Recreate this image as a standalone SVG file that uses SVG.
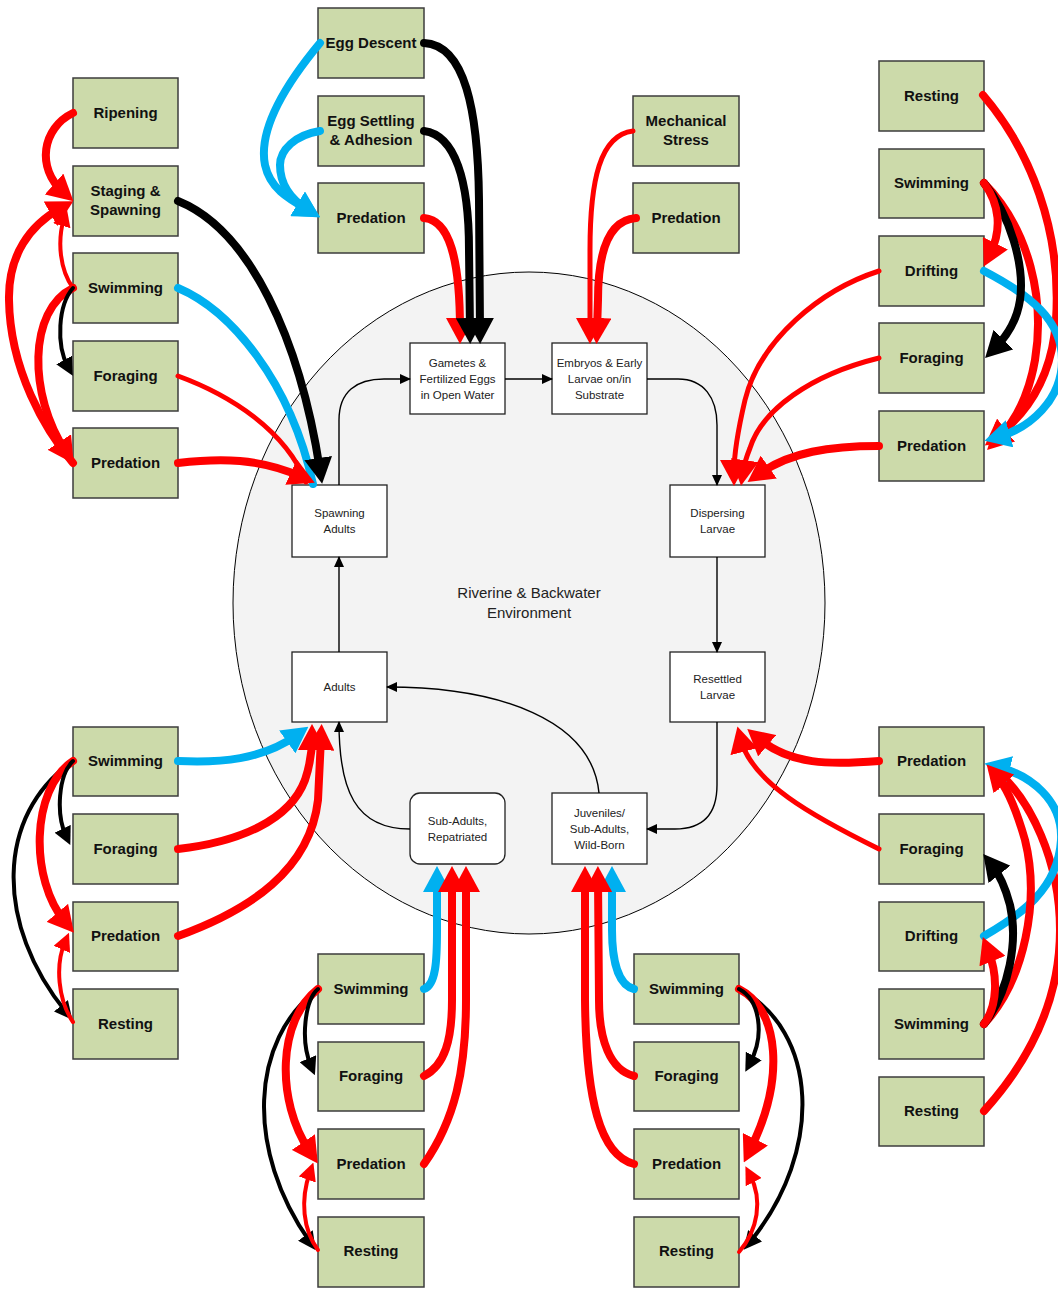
<svg xmlns="http://www.w3.org/2000/svg" width="1058" height="1289" viewBox="0 0 1058 1289">
  <style>
    .act rect { fill: #ccdaaa; stroke: #3c3c3c; stroke-width: 1.5; }
    .act text { font-family: "Liberation Sans", Arial, sans-serif; font-weight: bold; font-size: 15px; fill: #111; text-anchor: middle; }
    .stage rect { fill: #ffffff; stroke: #222; stroke-width: 1.3; }
    .stage text { font-family: "Liberation Sans", Arial, sans-serif; font-size: 11.5px; fill: #222; text-anchor: middle; }
    .env { font-family: "Liberation Sans", Arial, sans-serif; font-size: 15px; fill: #222; text-anchor: middle; }
    .flow path { fill: none; stroke: #000; stroke-width: 1.4; }
    .link path { fill: none; stroke-linecap: round; stroke-linejoin: round; }
    .link .t { stroke-width: 8; }
    .link .m { stroke-width: 5; }
    .link .n { stroke-width: 4; }
    .link .r { stroke: #ff0000; }
    .link .b { stroke: #00b0f0; }
    .link .k { stroke: #000000; }
  </style>
  <defs>
    <marker id="aRL" viewBox="0 0 26 28" markerWidth="26" markerHeight="28" refX="12" refY="14" orient="auto" markerUnits="userSpaceOnUse"><path d="M0,0L26,14L0,28Z" fill="#ff0000"/></marker>
    <marker id="aBL" viewBox="0 0 26 28" markerWidth="26" markerHeight="28" refX="12" refY="14" orient="auto" markerUnits="userSpaceOnUse"><path d="M0,0L26,14L0,28Z" fill="#00b0f0"/></marker>
    <marker id="aKL" viewBox="0 0 26 28" markerWidth="26" markerHeight="28" refX="12" refY="14" orient="auto" markerUnits="userSpaceOnUse"><path d="M0,0L26,14L0,28Z" fill="#000000"/></marker>
    <marker id="aRS" viewBox="0 0 18 18" markerWidth="18" markerHeight="18" refX="8" refY="9" orient="auto" markerUnits="userSpaceOnUse"><path d="M0,0L18,9L0,18Z" fill="#ff0000"/></marker>
    <marker id="aKS" viewBox="0 0 18 18" markerWidth="18" markerHeight="18" refX="8" refY="9" orient="auto" markerUnits="userSpaceOnUse"><path d="M0,0L18,9L0,18Z" fill="#000000"/></marker>
    <marker id="aK" viewBox="0 0 11 10" markerWidth="11" markerHeight="10" refX="10" refY="5" orient="auto" markerUnits="userSpaceOnUse"><path d="M0,0L11,5L0,10Z" fill="#000000"/></marker>
  </defs>

  <!-- habitat boundary -->
  <ellipse cx="529" cy="603" rx="296" ry="331" fill="#f3f3f3" stroke="#000" stroke-width="1"/>
  <text class="env" x="529" y="598">Riverine &amp; Backwater</text>
  <text class="env" x="529" y="618">Environment</text>

  <!-- life stages -->
  <g id="stage-gametes" class="stage"><rect x="410" y="343" width="95" height="71"/><text x="457.5" y="367">Gametes &amp;</text><text x="457.5" y="383">Fertilized Eggs</text><text x="457.5" y="399">in Open Water</text></g>
  <g id="stage-embryos" class="stage"><rect x="552" y="343" width="95" height="71"/><text x="599.5" y="367">Embryos &amp; Early</text><text x="599.5" y="383">Larvae on/in</text><text x="599.5" y="399">Substrate</text></g>
  <g id="stage-spawning-adults" class="stage"><rect x="292" y="485" width="95" height="72"/><text x="339.5" y="517">Spawning</text><text x="339.5" y="533">Adults</text></g>
  <g id="stage-dispersing-larvae" class="stage"><rect x="670" y="485" width="95" height="72"/><text x="717.5" y="517">Dispersing</text><text x="717.5" y="533">Larvae</text></g>
  <g id="stage-adults" class="stage"><rect x="292" y="652" width="95" height="70"/><text x="339.5" y="691">Adults</text></g>
  <g id="stage-resettled-larvae" class="stage"><rect x="670" y="652" width="95" height="70"/><text x="717.5" y="683">Resettled</text><text x="717.5" y="699">Larvae</text></g>
  <g id="stage-sub-adults" class="stage"><rect x="410" y="793" width="95" height="71" rx="10" ry="10"/><text x="457.5" y="825">Sub-Adults,</text><text x="457.5" y="841">Repatriated</text></g>
  <g id="stage-juveniles" class="stage"><rect x="552" y="793" width="95" height="71"/><text x="599.5" y="817">Juveniles/</text><text x="599.5" y="833">Sub-Adults,</text><text x="599.5" y="849">Wild-Born</text></g>

  <!-- activities around spawning adults -->
  <g id="sa-ripening" class="act"><rect x="73" y="78" width="105" height="70"/><text x="125.5" y="118">Ripening</text></g>
  <g id="sa-staging" class="act"><rect x="73" y="166" width="105" height="70"/><text x="125.5" y="196">Staging &amp;</text><text x="125.5" y="215">Spawning</text></g>
  <g id="sa-swimming" class="act"><rect x="73" y="253" width="105" height="70"/><text x="125.5" y="293">Swimming</text></g>
  <g id="sa-foraging" class="act"><rect x="73" y="341" width="105" height="70"/><text x="125.5" y="381">Foraging</text></g>
  <g id="sa-predation" class="act"><rect x="73" y="428" width="105" height="70"/><text x="125.5" y="468">Predation</text></g>

  <!-- activities around gametes -->
  <g id="ge-descent" class="act"><rect x="318" y="8" width="106" height="70"/><text x="371" y="48">Egg Descent</text></g>
  <g id="ge-settling" class="act"><rect x="318" y="96" width="106" height="70"/><text x="371" y="126">Egg Settling</text><text x="371" y="145">&amp; Adhesion</text></g>
  <g id="ge-predation" class="act"><rect x="318" y="183" width="106" height="70"/><text x="371" y="223">Predation</text></g>

  <!-- activities around embryos -->
  <g id="em-stress" class="act"><rect x="633" y="96" width="106" height="70"/><text x="686" y="126">Mechanical</text><text x="686" y="145">Stress</text></g>
  <g id="em-predation" class="act"><rect x="633" y="183" width="106" height="70"/><text x="686" y="223">Predation</text></g>

  <!-- activities around dispersing larvae -->
  <g id="dl-resting" class="act"><rect x="879" y="61" width="105" height="70"/><text x="931.5" y="101">Resting</text></g>
  <g id="dl-swimming" class="act"><rect x="879" y="149" width="105" height="69"/><text x="931.5" y="188">Swimming</text></g>
  <g id="dl-drifting" class="act"><rect x="879" y="236" width="105" height="70"/><text x="931.5" y="276">Drifting</text></g>
  <g id="dl-foraging" class="act"><rect x="879" y="323" width="105" height="70"/><text x="931.5" y="363">Foraging</text></g>
  <g id="dl-predation" class="act"><rect x="879" y="411" width="105" height="70"/><text x="931.5" y="451">Predation</text></g>

  <!-- activities around adults -->
  <g id="ad-swimming" class="act"><rect x="73" y="727" width="105" height="69"/><text x="125.5" y="766">Swimming</text></g>
  <g id="ad-foraging" class="act"><rect x="73" y="814" width="105" height="70"/><text x="125.5" y="854">Foraging</text></g>
  <g id="ad-predation" class="act"><rect x="73" y="902" width="105" height="69"/><text x="125.5" y="941">Predation</text></g>
  <g id="ad-resting" class="act"><rect x="73" y="989" width="105" height="70"/><text x="125.5" y="1029">Resting</text></g>

  <!-- activities around repatriated sub-adults -->
  <g id="rp-swimming" class="act"><rect x="318" y="954" width="106" height="70"/><text x="371" y="994">Swimming</text></g>
  <g id="rp-foraging" class="act"><rect x="318" y="1042" width="106" height="69"/><text x="371" y="1081">Foraging</text></g>
  <g id="rp-predation" class="act"><rect x="318" y="1129" width="106" height="70"/><text x="371" y="1169">Predation</text></g>
  <g id="rp-resting" class="act"><rect x="318" y="1217" width="106" height="70"/><text x="371" y="1256">Resting</text></g>

  <!-- activities around wild-born juveniles -->
  <g id="jv-swimming" class="act"><rect x="634" y="954" width="105" height="70"/><text x="686.5" y="994">Swimming</text></g>
  <g id="jv-foraging" class="act"><rect x="634" y="1042" width="105" height="69"/><text x="686.5" y="1081">Foraging</text></g>
  <g id="jv-predation" class="act"><rect x="634" y="1129" width="105" height="70"/><text x="686.5" y="1169">Predation</text></g>
  <g id="jv-resting" class="act"><rect x="634" y="1217" width="105" height="70"/><text x="686.5" y="1256">Resting</text></g>

  <!-- activities around resettled larvae -->
  <g id="rl-predation" class="act"><rect x="879" y="727" width="105" height="69"/><text x="931.5" y="766">Predation</text></g>
  <g id="rl-foraging" class="act"><rect x="879" y="814" width="105" height="70"/><text x="931.5" y="854">Foraging</text></g>
  <g id="rl-drifting" class="act"><rect x="879" y="902" width="105" height="69"/><text x="931.5" y="941">Drifting</text></g>
  <g id="rl-swimming" class="act"><rect x="879" y="989" width="105" height="70"/><text x="931.5" y="1029">Swimming</text></g>
  <g id="rl-resting" class="act"><rect x="879" y="1077" width="105" height="69"/><text x="931.5" y="1116">Resting</text></g>

  <!-- life-cycle flow -->
  <g id="life-cycle" class="flow">
    <path d="M339,485 V420 C339,392 356,379 384,379 H410" marker-end="url(#aK)"/>
    <path d="M505,379 H552" marker-end="url(#aK)"/>
    <path d="M647,379 H678 C704,379 717,398 717,425 V485" marker-end="url(#aK)"/>
    <path d="M717,557 V652" marker-end="url(#aK)"/>
    <path d="M717,722 V785 C717,815 702,829 675,829 H647" marker-end="url(#aK)"/>
    <path d="M599,793 C592,720 500,687 387,687" marker-end="url(#aK)"/>
    <path d="M410,829 C355,829 339,790 339,722" marker-end="url(#aK)"/>
    <path d="M339,652 V557" marker-end="url(#aK)"/>
  </g>

  <!-- activity transitions and influences -->
  <g id="connectors" class="link">
    <!-- spawning adults -->
    <path class="t r" d="M73,113 C42,128 36,168 63,192" marker-end="url(#aRL)"/>
    <path class="t r" d="M73,463 C45,430 10,370 9,300 C8,255 30,225 61,208" marker-end="url(#aRL)"/>
    <path class="n r" d="M73,288 C60,270 57,242 64,218" marker-end="url(#aRS)"/>
    <path class="t r" d="M73,288 C28,310 28,395 66,452" marker-end="url(#aRL)"/>
    <path class="n k" d="M73,288 C58,305 56,345 68,367" marker-end="url(#aKS)"/>
    <path class="m r" d="M178,376 C230,395 285,430 306,482"/>
    <path class="t b" d="M178,288 C230,310 290,380 313,484"/>
    <path class="t r" d="M178,463 C220,458 260,458 302,477" marker-end="url(#aRL)"/>
    <path class="t k" d="M178,201 C250,230 300,340 320,470" marker-end="url(#aKL)"/>

    <!-- gametes -->
    <path class="t b" d="M320,43 C285,85 258,130 265,165 C270,188 287,198 308,210" marker-end="url(#aBL)"/>
    <path class="t b" d="M320,131 C295,135 280,150 280,165 C280,185 292,200 308,210" marker-end="url(#aBL)"/>
    <path class="t r" d="M424,218 C450,220 460,260 460,330" marker-end="url(#aRL)"/>
    <path class="t k" d="M424,131 C455,135 469,180 469,250 L470,330" marker-end="url(#aKL)"/>
    <path class="t k" d="M424,43 C465,45 478,110 479,200 L480,330" marker-end="url(#aKL)"/>

    <!-- embryos -->
    <path class="m r" d="M633,131 C600,135 590,180 590,250 L590,330" marker-end="url(#aRL)"/>
    <path class="t r" d="M636,218 C610,220 598,250 598,300 L597,330" marker-end="url(#aRL)"/>

    <!-- dispersing larvae -->
    <path class="m r" d="M879,271 C820,290 760,340 745,400 C738,430 734,452 734,472" marker-end="url(#aRL)"/>
    <path class="m r" d="M879,358 C810,375 762,410 750,448 C746,458 744,465 743,472" marker-end="url(#aRL)"/>
    <path class="t r" d="M879,446 C830,446 790,452 759,474" marker-end="url(#aRL)"/>
    <path class="t r" d="M983,95 C1030,150 1062,230 1056,320 C1052,380 1025,415 996,437" marker-end="url(#aRL)"/>
    <path class="t r" d="M984,183 C1030,230 1045,300 1035,360 C1028,400 1012,425 997,440" marker-end="url(#aRL)"/>
    <path class="t b" d="M984,271 C1030,295 1062,320 1062,360 C1062,400 1030,428 998,437" marker-end="url(#aBL)"/>
    <path class="t k" d="M984,183 C1010,215 1025,265 1020,300 C1017,320 1008,335 995,348" marker-end="url(#aKL)"/>
    <path class="t r" d="M984,183 C1000,205 1002,230 990,254" marker-end="url(#aRL)"/>

    <!-- adults -->
    <path class="n k" d="M73,761 C-5,815 -5,925 66,1012" marker-end="url(#aKS)"/>
    <path class="t r" d="M73,761 C30,790 30,880 65,922" marker-end="url(#aRL)"/>
    <path class="n k" d="M73,761 C58,775 56,815 66,836" marker-end="url(#aKS)"/>
    <path class="n r" d="M73,1022 C58,1000 55,965 65,942" marker-end="url(#aRS)"/>
    <path class="t b" d="M178,761 C220,763 262,760 297,735" marker-end="url(#aBL)"/>
    <path class="t r" d="M178,849 C240,842 290,820 305,780 C310,765 312,752 312,738" marker-end="url(#aRL)"/>
    <path class="t r" d="M178,936 C250,910 310,870 318,800 L321,738" marker-end="url(#aRL)"/>

    <!-- repatriated sub-adults -->
    <path class="t b" d="M424,989 C436,985 437,960 437,930 L437,880" marker-end="url(#aBL)"/>
    <path class="t r" d="M424,1076 C445,1065 452,1040 452,1000 L452,880" marker-end="url(#aRL)"/>
    <path class="t r" d="M424,1164 C455,1120 466,1070 466,1000 L466,880" marker-end="url(#aRL)"/>
    <path class="n k" d="M318,989 C250,1040 245,1150 310,1242" marker-end="url(#aKS)"/>
    <path class="t r" d="M318,989 C278,1020 275,1100 310,1152" marker-end="url(#aRL)"/>
    <path class="n k" d="M318,989 C305,1000 300,1040 311,1066" marker-end="url(#aKS)"/>
    <path class="n r" d="M318,1250 C303,1230 300,1200 310,1172" marker-end="url(#aRS)"/>

    <!-- wild-born juveniles -->
    <path class="t b" d="M634,989 C618,985 612,960 612,930 L612,880" marker-end="url(#aBL)"/>
    <path class="t r" d="M634,1076 C610,1070 599,1040 599,1000 L598,880" marker-end="url(#aRL)"/>
    <path class="t r" d="M634,1164 C600,1155 586,1100 585,1000 L585,880" marker-end="url(#aRL)"/>
    <path class="n k" d="M739,989 C818,1030 825,1150 750,1242" marker-end="url(#aKS)"/>
    <path class="t r" d="M739,989 C780,1010 785,1080 750,1150" marker-end="url(#aRL)"/>
    <path class="n k" d="M739,989 C760,1000 765,1035 750,1063" marker-end="url(#aKS)"/>
    <path class="n r" d="M739,1252 C758,1230 763,1200 750,1175" marker-end="url(#aRS)"/>

    <!-- resettled larvae -->
    <path class="t r" d="M879,761 C830,765 790,765 758,738" marker-end="url(#aRL)"/>
    <path class="m r" d="M879,849 C810,815 752,782 741,740" marker-end="url(#aRL)"/>
    <path class="t r" d="M984,1111 C1030,1060 1060,1000 1060,930 C1060,860 1030,800 998,772" marker-end="url(#aRL)"/>
    <path class="t b" d="M984,936 C1020,915 1058,890 1061,840 C1063,800 1030,775 998,767" marker-end="url(#aBL)"/>
    <path class="t r" d="M984,1024 C1025,980 1040,900 1025,840 C1015,805 1005,785 996,775" marker-end="url(#aRL)"/>
    <path class="t k" d="M984,1024 C1010,990 1018,940 1010,905 C1006,890 1000,875 992,865" marker-end="url(#aKL)"/>
    <path class="t r" d="M984,1024 C998,1005 998,975 988,950" marker-end="url(#aRL)"/>
  </g>
</svg>
